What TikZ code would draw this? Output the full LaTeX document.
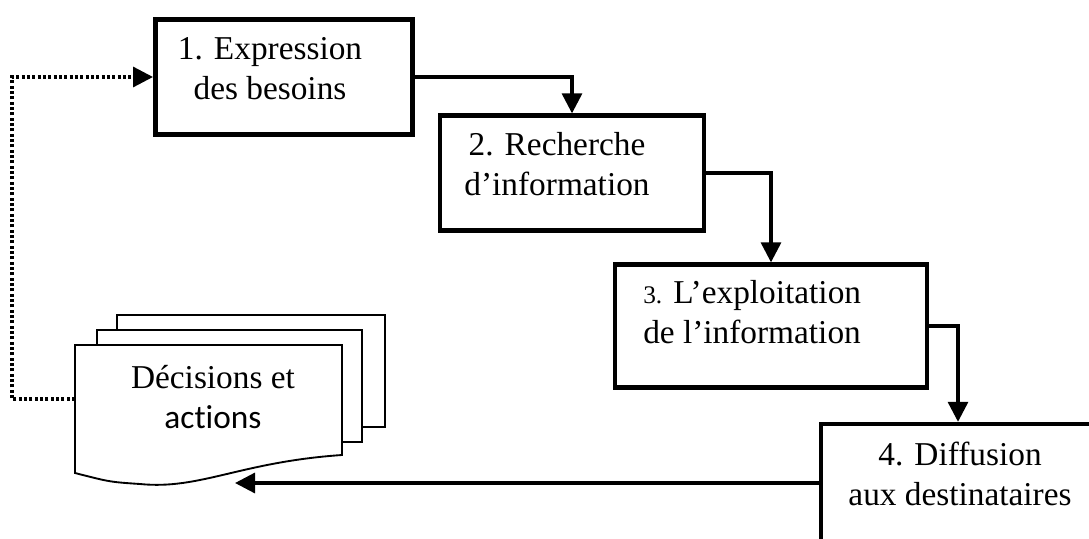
\documentclass[tikz,border=0pt]{standalone}
\usepackage{fontspec}
\setmainfont{Liberation Serif}
\newfontfamily\carlito[Ligatures=NoCommon]{Carlito}
\usetikzlibrary{arrows.meta}

\begin{document}
\begin{tikzpicture}[x=0.75pt, y=-0.75pt, >={Triangle[length=15pt, width=15pt]},
  stage/.style={draw, line width=3.5pt, inner sep=0pt},
  txt/.style={align=center, inner sep=0pt, font=\fontsize{25}{30}\selectfont},
  sheet/.style={draw, fill=white, line width=1.4pt},
  flow/.style={line width=2.4pt}]
  \useasboundingbox (0,0) rectangle (1089,539);

  % Stages
  \node[stage, minimum width=193pt, minimum height=86pt] (b1) at (284,77) {};
  \node[txt] (t1) at (270,69) {1. Expression\\des besoins};

  \node[stage, minimum width=198pt, minimum height=86pt] (b2) at (572,173) {};
  \node[txt] (t2) at (557,164) {2. Recherche\\d'information};

  \node[stage, minimum width=234pt, minimum height=92pt] (b3) at (771,326) {};
  \node[txt, align=left, anchor=west] (t3) at (643,312) {{\fontsize{19}{30}\selectfont 3.} L'exploitation\\de l'information};

  \node[stage, line width=2.8pt, minimum width=206pt, minimum height=89pt] (b4) at (958,483) {};
  \node[txt] (t4) at (960,474) {4. Diffusion\\aux destinataires};

  % Documents
  \draw[sheet] (117,315) rectangle (385,427);
  \draw[sheet] (97,330) rectangle (362,442);
  \draw[sheet] (75,345) -- (342,345) -- (342,455) .. controls (240,462) and (200,490) .. (140,484) .. controls (110,482) .. (75,473) -- cycle;
  \node[txt] (dec) at (213,397) {Décisions et\\{\carlito actions}};
  \coordinate (decW) at (75,399);
  \coordinate (decS) at (235,483);

  % Arrows
  \draw[flow, ->] (b1.east) -| (b2.north);
  \draw[flow, ->] (b2.east) -| (b3.north);
  \draw[flow, ->] (b3.east) -| (b4.north);
  \draw[flow, ->] (b4.west) -- (decS);
  \draw[flow, ->, dash pattern=on 2.2pt off 1.8pt] (decW) -- ++(-63,0) |- (b1.west);
\end{tikzpicture}
\end{document}
